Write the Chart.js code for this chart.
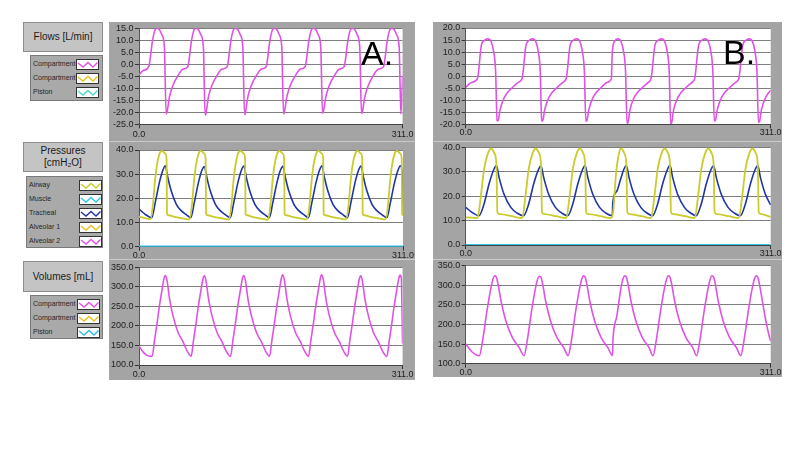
<!DOCTYPE html>
<html>
<head>
<meta charset="utf-8">
<script src="https://cdn.jsdelivr.net/npm/chart.js"></script>
<style>
  body { margin: 0; width: 800px; height: 450px; background: #fff; position: relative; overflow: hidden;
         font-family: 'Liberation Sans', Arial, sans-serif; }
  .frame { position: absolute; background: #a4a4a4; }
  .sep { position: absolute; height: 1px; background: #cacaca; }
  .lbl { position: absolute; background: #c4c4c4; border: 1px solid #8c8c8c; box-sizing: border-box;
         display: flex; align-items: center; justify-content: center; text-align: center;
         font-size: 10px; line-height: 12px; color: #1a1a1a; }
  .leg { position: absolute; background: #a9a9a9; border: 1px solid #7a7a7a; box-sizing: border-box; }
  .leg .row { position: absolute; left: 2px; font-size: 7px; height: 14px; line-height: 14px; color: #262626; }
  .leg .sw { position: absolute; width: 23px; height: 11px; background: #fff; border: 1px solid #333; box-sizing: border-box; }
  .tag { position: absolute; font-size: 34px; line-height: 34px; color: #000; }
</style>
</head>
<body>

<div class="lbl" style="left:23px;top:22px;width:80px;height:30px">Flows [L/min]</div>
<div class="leg" id="legFlow" style="left:30px;top:55px;width:73px;height:46px"></div>
<div class="lbl" style="left:23px;top:142px;width:80px;height:30px">Pressures<br>[cmH₂O]</div>
<div class="leg" id="legPres" style="left:26px;top:176px;width:77px;height:72px"></div>
<div class="lbl" style="left:23px;top:261px;width:80px;height:31px">Volumes [mL]</div>
<div class="leg" id="legVol" style="left:30px;top:295px;width:73px;height:44px"></div>

<div class="frame" style="left:109px;top:22px;width:306px;height:119px"><canvas id="flowA"></canvas></div>
<div class="frame" style="left:109px;top:141px;width:306px;height:118px"><canvas id="presA"></canvas></div>
<div class="frame" style="left:109px;top:259px;width:306px;height:121px"><canvas id="volA"></canvas></div>
<div class="frame" style="left:433px;top:22px;width:349px;height:119px"><canvas id="flowB"></canvas></div>
<div class="frame" style="left:433px;top:141px;width:349px;height:118px"><canvas id="presB"></canvas></div>
<div class="frame" style="left:433px;top:259px;width:349px;height:118px"><canvas id="volB"></canvas></div>
<div class="sep" style="left:109px;top:141px;width:306px"></div>
<div class="sep" style="left:109px;top:259px;width:306px"></div>
<div class="sep" style="left:433px;top:141px;width:349px"></div>
<div class="sep" style="left:433px;top:259px;width:349px"></div>

<div class="tag" style="left:361px;top:36px">A.</div>
<div class="tag" style="left:723px;top:35px">B.</div>

<script>
// legend entries
const flowNames = ['Compartment', 'Compartment', 'Piston'];
const flowColors = ['#e052e6', '#e8c020', '#48d8cc'];
const presNames = ['Airway', 'Muscle', 'Tracheal', 'Alveolar 1', 'Alveolar 2'];
const presColors = ['#c9cc2c', '#2ec4ea', '#1f35a5', '#e8c020', '#e052e6'];
const volNames = ['Compartment', 'Compartment', 'Piston'];
const volColors = ['#e052e6', '#e8c020', '#30bce6'];

// x axis ticks (samples)
const xTicks = [0, 311];

// ---- A. flows (compartment) ----
const flowA_x = [0, 5, 11.5, 16, 19, 21.5, 24, 27, 30, 32, 33, 36, 40, 46, 52,
  57.5, 62, 65, 67.5, 70, 73, 76, 78, 79, 82, 86, 92, 98,
  104, 108.5, 111.5, 114, 116.5, 119.5, 122.5, 124.5, 125.5, 128.5, 132.5, 138.5, 144.5,
  150, 154.5, 157.5, 160, 162.5, 165.5, 168.5, 170.5, 171.5, 174.5, 178.5, 184.5, 190.5,
  196, 200.5, 203.5, 206, 208.5, 211.5, 214.5, 216.5, 217.5, 220.5, 224.5, 230.5, 236.5,
  242, 246.5, 249.5, 252, 254.5, 257.5, 260.5, 262.5, 263.5, 266.5, 270.5, 276.5, 282.5,
  288.5, 293, 296, 298.5, 301, 304, 307, 309, 311];
const flowA_y = [-4.3, -2.6, -1, 10, 14.4, 15, 14.5, 12.3, 7, -20.7, -20, -13.5, -8.8, -4.7, -2,
  -1, 10, 14.4, 15, 14.5, 12.3, 7, -21.2, -20.5, -13.5, -8.8, -4.7, -2,
  -1, 10, 14.4, 15, 14.5, 12.3, 7, -21, -20.3, -13.5, -8.8, -4.7, -2,
  -1, 10, 14.4, 15, 14.5, 12.3, 7, -20.7, -20, -13.5, -8.8, -4.7, -2,
  -1, 10, 14.4, 15, 14.5, 12.3, 7, -20.4, -19.8, -13.5, -8.8, -4.7, -2,
  -1, 10, 14.4, 15, 14.5, 12.3, 7, -20.5, -19.9, -13.5, -8.8, -4.7, -2,
  -1, 10, 14.4, 15, 14.5, 12.3, 7, -20.7, -5];

// ---- B. flows (compartment) ----
const flowB_x = [0, 6, 12, 16, 19, 22.5, 26, 28.5, 30.5, 32, 33, 35, 39.5, 48, 54,
  57.5, 61.5, 64.5, 68, 71.5, 74, 76, 77.5, 78.5, 80.5, 85, 93.5, 99.5,
  102.5, 106.5, 109.5, 113, 116.5, 119, 121, 122.5, 123.5, 125.5, 130, 138.5, 144.5,
  148.5, 149.5, 152, 155, 158.5, 161, 163, 164.5, 165.5, 167.5, 172, 180.5, 186.5,
  189, 193, 196, 199.5, 203, 205.5, 207.5, 209, 210, 212, 216.5, 225, 231,
  233.5, 237.5, 240.5, 244, 247.5, 250, 252, 253.5, 254.5, 256.5, 261, 269.5, 275.5,
  278.5, 282.5, 285.5, 289, 292.5, 295, 297, 298.5, 299.5, 301.5, 306, 311];
const flowB_y = [-4.6, -2.6,
  -1, 12.9, 14.8, 15.5, 14.3, 10.2, 2, -18.5, -18.6, -14, -8.7, -4.6, -2.5,
  -1, 12.9, 14.8, 15.5, 14.3, 10.2, 2, -18.4, -18.6, -14, -8.7, -4.6, -2.5,
  -1, 12.9, 14.8, 15.5, 14.3, 10.2, 2, -18.7, -18.5, -14, -8.7, -4.6, -2.5,
  -1.1, 10, 14.5, 15.5, 14.3, 10.2, 2, -19.6, -19.2, -14, -8.7, -4.6, -2.5,
  -1, 12.9, 14.8, 15.5, 14.3, 10.2, 2, -19.8, -19.4, -14, -8.7, -4.6, -2.5,
  -1, 12.9, 14.8, 15.5, 14.3, 10.2, 2, -18.6, -18.5, -14, -8.7, -4.6, -2.5,
  -1, 12.9, 14.8, 15.5, 14.3, 10.2, 2, -19.2, -19, -14, -8.7, -5.8];

// ---- A. pressures ----
const presA_air_x = [0, 6,
  13.5, 16.5, 18.5, 21, 24, 27, 31, 32.5, 33, 35, 42, 52,
  59.5, 62.5, 64.5, 67, 70, 73, 77, 78.5, 79, 81, 88, 98,
  106, 109, 111, 113.5, 116.5, 119.5, 123.5, 125, 125.5, 127.5, 134.5, 144.5,
  152, 155, 157, 159.5, 162.5, 165.5, 169.5, 171, 171.5, 173.5, 180.5, 190.5,
  198, 201, 203, 205.5, 208.5, 211.5, 215.5, 217, 217.5, 219.5, 226.5, 236.5,
  244, 247, 249, 251.5, 254.5, 257.5, 261.5, 263, 263.5, 265.5, 272.5, 282.5,
  290.5, 293.5, 295.5, 298, 301, 304, 308, 309.5, 310, 311];
const presA_air_y = [12.4, 11.9,
  11.3, 17.7, 26, 33.5, 38.3, 39.6, 38.5, 36, 13.5, 13, 12.3, 11.7,
  11.3, 17.7, 26, 33.5, 38.3, 39.6, 38.5, 36, 13.6, 13, 12.3, 11.7,
  11.2, 17.7, 26, 33.5, 38.3, 39.6, 38.5, 36, 13.4, 13, 12.2, 11.6,
  11.2, 17.7, 26, 33.5, 38.3, 39.6, 38.5, 36, 13.5, 13, 12.3, 11.7,
  11.3, 17.7, 26, 33.5, 38.3, 39.6, 38.5, 36, 13.5, 13, 12.3, 11.7,
  11.3, 17.7, 26, 33.5, 38.3, 39.6, 38.5, 36, 13.4, 13, 12.3, 11.7,
  11.3, 17.7, 26, 33.5, 38.3, 39.6, 38.5, 36, 13.5, 13];
const presA_tra_x = [0, 7,
  15, 19, 24, 28, 31, 34, 38, 44, 50, 56,
  61, 65, 70, 74, 77, 80, 84, 90, 96, 102,
  107.5, 111.5, 116.5, 120.5, 123.5, 126.5, 130.5, 136.5, 142.5, 148.5,
  153.5, 157.5, 162.5, 166.5, 169.5, 172.5, 176.5, 182.5, 188.5, 194.5,
  199.5, 203.5, 208.5, 212.5, 215.5, 218.5, 222.5, 228.5, 234.5, 240.5,
  245.5, 249.5, 254.5, 258.5, 261.5, 264.5, 268.5, 274.5, 280.5, 286.5,
  292, 296, 301, 305, 308, 310, 311];
const presA_tra_y = [15.6, 13.5,
  12, 18, 26.5, 31.5, 33.5, 28.5, 23, 17.5, 14.8, 13.2,
  12, 18, 26.5, 31.5, 33.2, 28.5, 23, 17.5, 14.8, 13.2,
  12, 18, 26.5, 31.5, 33.4, 28.5, 23, 17.5, 14.8, 13.2,
  12, 18, 26.5, 31.5, 33.3, 28.5, 23, 17.5, 14.8, 13.2,
  12, 18, 26.5, 31.5, 33.5, 28.5, 23, 17.5, 14.8, 13.2,
  12, 18, 26.5, 31.5, 33.4, 28.5, 23, 17.5, 14.8, 13.2,
  12, 18, 26.5, 31.5, 33.5, 30, 15.5];
const presA_mus_x = [0, 311];
const presA_mus_y = [0, 0];

// ---- B. pressures ----
const presB_air_x = [0, 6,
  12, 15.3, 18.7, 22.5, 26, 29.5, 31.3, 32.3, 35, 47,
  57.5, 60.8, 64.2, 68, 71.5, 75, 76.8, 77.8, 80.5, 92.5,
  102.5, 105.8, 109.2, 113, 116.5, 120, 121.8, 122.8, 125.5, 137.5,
  148, 150.5, 153, 155.5, 158.5, 162, 163.8, 164.8, 167.5, 179.5,
  189, 192.3, 195.7, 199.5, 203, 206.5, 208.3, 209.3, 212, 224,
  233.5, 236.8, 240.2, 244, 247.5, 251, 252.8, 253.8, 256.5, 268.5,
  278.5, 281.8, 285.2, 289, 292.5, 296, 297.8, 298.8, 301.5, 311];
const presB_air_y = [11.3, 11.2,
  11, 19.5, 31, 37.3, 39.5, 37.3, 33, 13.4, 12.6, 11.8,
  11, 19.5, 31, 37.3, 39.5, 37.3, 33, 13.4, 12.6, 11.8,
  11, 19.5, 31, 37.3, 39.5, 37.3, 33, 13.4, 12.6, 11.8,
  11, 14, 28, 36, 39.5, 37.3, 33, 13.4, 12.6, 11.8,
  11, 19.5, 31, 37.3, 39.5, 37.3, 33, 13.4, 12.6, 11.8,
  11, 19.5, 31, 37.3, 39.5, 37.3, 33, 13.4, 12.6, 11.8,
  11, 19.5, 31, 37.3, 39.5, 37.3, 33, 13.4, 12.6, 11.5];
const presB_tra_x = [0, 7,
  13.5, 18.7, 23.8, 28.9, 31.3, 34, 39, 46, 52.7,
  59, 64.2, 69.3, 74.4, 76.8, 79.5, 84.5, 91.5, 98.2,
  104, 109.2, 114.3, 119.4, 121.8, 124.5, 129.5, 136.5, 143.2,
  149.5, 150, 154, 158, 161.4, 163.8, 166.5, 171.5, 178.5, 185.2,
  190.5, 195.7, 200.8, 205.9, 208.3, 211, 216, 223, 229.7,
  235, 240.2, 245.3, 250.4, 252.8, 255.5, 260.5, 267.5, 274.2,
  280, 285.2, 290.3, 295.4, 297.8, 300.5, 305.5, 311];
const presB_tra_y = [15.4, 13.2,
  12, 16.8, 25, 31.1, 32.5, 27.7, 20.9, 15.4, 13,
  12, 16.8, 25, 31.1, 32.3, 27.7, 20.9, 15.4, 13,
  12, 16.8, 25, 31.1, 32.5, 27.7, 20.9, 15.4, 13,
  12, 17.5, 22, 27, 31.1, 32.5, 27.7, 20.9, 15.4, 13,
  12, 16.8, 25, 31.1, 32.6, 27.7, 20.9, 15.4, 13,
  12, 16.8, 25, 31.1, 32.4, 27.7, 20.9, 15.4, 13,
  12, 16.8, 25, 31.1, 32.5, 27.7, 20.9, 16.4];
const presB_mus_x = [0, 311];
const presB_mus_y = [0, 0];

// ---- A. volumes (compartment) ----
const volA_x = [0, 5, 10,
  15.5, 18.5, 21.5, 24, 27, 29.5, 31, 33, 36, 40, 46, 52, 57.5,
  61.5, 64.5, 67.5, 70, 73, 75.5, 77, 79, 82, 86, 92, 98, 103.5,
  108, 111, 114, 116.5, 119.5, 122, 123.5, 125.5, 128.5, 132.5, 138.5, 144.5, 150,
  154, 157, 160, 162.5, 165.5, 168, 169.5, 171.5, 174.5, 178.5, 184.5, 190.5, 196,
  200, 203, 206, 208.5, 211.5, 214, 215.5, 217.5, 220.5, 224.5, 230.5, 236.5, 242,
  246, 249, 252, 254.5, 257.5, 260, 261.5, 263.5, 266.5, 270.5, 276.5, 282.5, 288,
  292.5, 295.5, 298.5, 301, 304, 306.5, 308, 309.5, 311];
const volA_y = [148.6, 133, 124,
  122, 166, 210, 250, 290, 321, 329, 317, 270, 227, 184, 159, 133,
  122, 166, 210, 250, 290, 320, 328, 316, 270, 227, 184, 159, 133,
  122, 166, 210, 250, 290, 321, 329, 317, 270, 227, 184, 159, 133,
  122, 166, 210, 250, 290, 322, 331, 318, 270, 227, 184, 159, 133,
  122, 166, 210, 250, 290, 322, 331, 318, 270, 227, 184, 159, 133,
  122, 166, 210, 250, 290, 320, 328, 316, 270, 227, 184, 159, 133,
  122, 166, 210, 250, 290, 321, 330, 322, 155];

// ---- B. volumes (compartment) ----
const volB_x = [0, 6, 11,
  14, 17, 22, 27, 29.5, 31.3, 33, 36, 41, 47.5, 54.5,
  59.5, 62.5, 67.5, 72.5, 75, 76.8, 78.5, 81.5, 86.5, 93, 100,
  104.5, 107.5, 112.5, 117.5, 120, 121.8, 123.5, 126.5, 131.5, 138, 145,
  149.7, 150.2, 154, 157.5, 159.5, 162, 163.8, 165.5, 168.5, 173.5, 180, 187,
  191, 194, 199, 204, 206.5, 208.3, 210, 213, 218, 224.5, 231.5,
  235.5, 238.5, 243.5, 248.5, 251, 252.8, 254.5, 257.5, 262.5, 269, 276,
  280.5, 283.5, 288.5, 293.5, 296, 297.8, 299.5, 302.5, 306, 309, 311];
const volB_y = [151, 131, 122,
  120.5, 155, 240, 308, 324, 321, 303, 260, 209, 167, 141,
  120.5, 155, 240, 308, 323, 320, 303, 260, 209, 167, 141,
  120.5, 155, 240, 308, 324, 321, 303, 260, 209, 167, 141,
  121, 161, 220, 280, 308, 324, 321, 303, 260, 209, 167, 141,
  120.5, 155, 240, 308, 324, 321, 303, 260, 209, 167, 141,
  120.5, 155, 240, 308, 324, 321, 303, 260, 209, 167, 141,
  120.5, 155, 240, 308, 324, 321, 303, 260, 210, 175, 157];

Chart.defaults.font.family = "'Liberation Sans', Arial, sans-serif";

function buildLegend(id, names, colors, swLeft) {
  const box = document.getElementById(id);
  names.forEach((name, i) => {
    const row = document.createElement('div');
    row.className = 'row';
    row.style.top = (1 + 14 * i) + 'px';
    row.textContent = name;
    box.appendChild(row);
    const sw = document.createElement('div');
    sw.className = 'sw';
    sw.style.left = swLeft + 'px';
    sw.style.top = (2.5 + 14 * i) + 'px';
    sw.innerHTML = '<svg width="21" height="9" style="display:block"><polyline points="1,3 6,7 11,2.5 16,7 20.5,2.5" fill="none" stroke="' + colors[i] + '" stroke-width="1.4"/></svg>';
    box.appendChild(sw);
  });
}
buildLegend('legFlow', flowNames, flowColors, 45);
buildLegend('legPres', presNames, presColors, 52);
buildLegend('legVol', volNames, volColors, 46);

// white plot area inside the gray frame
const plotBg = {
  id: 'plotBg',
  beforeDraw(chart) {
    const { ctx, chartArea } = chart;
    ctx.save();
    ctx.fillStyle = '#ffffff';
    ctx.fillRect(chartArea.left, chartArea.top, chartArea.width, chartArea.height);
    ctx.restore();
  }
};

function series(xs, ys, color, width) {
  return {
    data: xs.map((x, i) => ({ x: x, y: ys[i] })),
    borderColor: color,
    borderWidth: width || 1.6,
    pointRadius: 0,
    cubicInterpolationMode: 'monotone',
    fill: false
  };
}

function makeChart(id, datasets, c) {
  return new Chart(document.getElementById(id), {
    type: 'line',
    data: { datasets: datasets },
    options: {
      responsive: true,
      maintainAspectRatio: false,
      animation: false,
      events: [],
      layout: { padding: { left: 0, top: c.top, right: c.right, bottom: 0 } },
      plugins: { legend: { display: false }, tooltip: { enabled: false } },
      scales: {
        x: {
          type: 'linear', min: xTicks[0], max: xTicks[1],
          afterBuildTicks: (s) => { s.ticks = xTicks.map(v => ({ value: v })); },
          afterFit: (s) => { s.height = c.xh; },
          ticks: { autoSkip: false, maxRotation: 0, padding: c.xpad, color: '#1e1e1e',
                   font: { size: 9, lineHeight: 1 }, callback: (v) => Number(v).toFixed(1) },
          grid: { drawOnChartArea: false, drawTicks: true, tickLength: 4, color: '#333' },
          border: { color: '#444' }
        },
        y: {
          min: c.min, max: c.max,
          afterFit: (s) => { s.width = c.yw; },
          ticks: { stepSize: c.step, padding: 1.5, color: '#1e1e1e',
                   font: { size: 9, lineHeight: 1 }, callback: (v) => Number(v).toFixed(1) },
          grid: { color: '#7d7d7d', tickColor: '#333', tickLength: 4 },
          border: { color: '#555' }
        }
      }
    },
    plugins: [plotBg]
  });
}

const mag = flowColors[0];
makeChart('flowA', [series(flowA_x, flowA_y, mag)],
  { top: 6.3, right: 12, yw: 30, xh: 16.7, xpad: 1.5, min: -25, max: 15, step: 5 });
makeChart('presA', [
    series(presA_mus_x, presA_mus_y, presColors[1], 2.2),
    series(presA_air_x, presA_air_y, presColors[0], 1.8),
    series(presA_tra_x, presA_tra_y, presColors[2], 1.6)],
  { top: 9, right: 12, yw: 30, xh: 12.3, xpad: 0, min: 0, max: 40, step: 10 });
makeChart('volA', [series(volA_x, volA_y, mag)],
  { top: 8.3, right: 12, yw: 30, xh: 15, xpad: 1.5, min: 100, max: 350, step: 50 });
makeChart('flowB', [series(flowB_x, flowB_y, mag)],
  { top: 4.7, right: 11.3, yw: 32.7, xh: 16.7, xpad: 0, min: -20, max: 20, step: 5 });
makeChart('presB', [
    series(presB_mus_x, presB_mus_y, presColors[1], 2.2),
    series(presB_air_x, presB_air_y, presColors[0], 1.8),
    series(presB_tra_x, presB_tra_y, presColors[2], 1.6)],
  { top: 6.3, right: 11.3, yw: 32.7, xh: 14, xpad: 0, min: 0, max: 40, step: 10 });
makeChart('volB', [series(volB_x, volB_y, mag)],
  { top: 6.7, right: 11.3, yw: 32.7, xh: 13.3, xpad: 0, min: 100, max: 350, step: 50 });
</script>
</body>
</html>
